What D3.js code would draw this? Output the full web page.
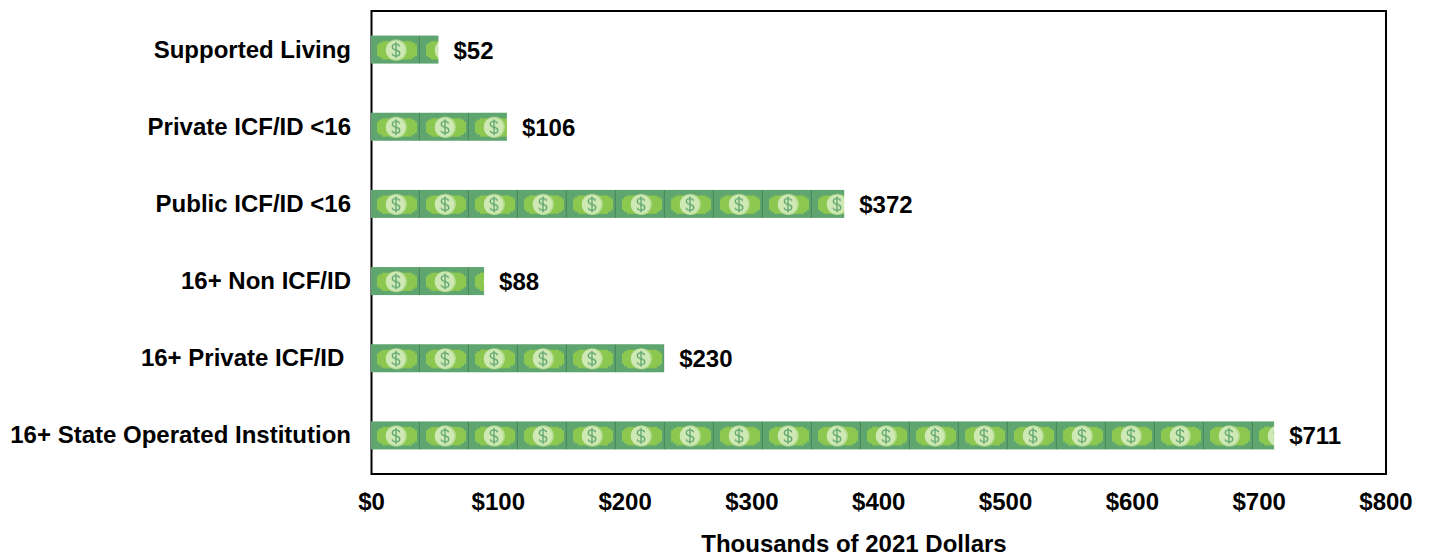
<!DOCTYPE html>
<html><head><meta charset="utf-8">
<style>html,body{margin:0;padding:0;background:#fff}svg{display:block}text{font-family:"Liberation Sans",Arial,sans-serif;font-weight:700;fill:#000}</style>
<script src="https://cdn.jsdelivr.net/npm/d3@7/dist/d3.min.js"></script>
</head><body><script>
const categories=["Supported Living","Private ICF/ID <16","Public ICF/ID <16","16+ Non ICF/ID","16+ Private ICF/ID ","16+ State Operated Institution"];
const values=[52,106,372,88,230,711];
const xTicks=[0,100,200,300,400,500,600,700,800];
const axisTitle="Thousands of 2021 Dollars";
const W=1429,H=557,m={l:371.5,r:1386,t:11,b:474};
const svg=d3.select("body").append("svg").attr("width",W).attr("height",H);
const x=d3.scaleLinear().domain([0,800]).range([m.l,m.r]);
const y=d3.scaleBand().domain(categories).range([m.t,m.b]).paddingInner(0.637).paddingOuter(0.3185);
const defs=svg.append("defs");
const tw=49,th=y.bandwidth();
const p=defs.append("pattern").attr("id","bill").attr("patternUnits","userSpaceOnUse").attr("width",tw).attr("height",th);
p.append("rect").attr("width",tw).attr("height",th).attr("fill","#5fa56f");
p.append("rect").attr("x",tw-1.2).attr("width",1.2).attr("height",th).attr("fill","#4c8a5e");
p.append("path").attr("fill","#8cc84f").attr("d","M6 9H8V7H11V5.5H41V7H44V9H46V20H44V22H41V24H11V22H8V20H6Z");
p.append("circle").attr("cx",25.5).attr("cy",14.5).attr("r",10.5).attr("fill","#b5dd8f");
p.append("circle").attr("cx",24.5).attr("cy",14.5).attr("r",9.8).attr("fill","#cfe9b5");
const sign=p.append("g").attr("fill","none").attr("stroke","#5fa56f").attr("stroke-width",1.3);
sign.append("path").attr("d","M28.6 10.8C28 9 26.5 8.6 25 8.6C22.8 8.6 21.3 9.8 21.3 11.5C21.3 13.5 23 14 25 14.5C27 15 28.8 15.6 28.8 17.6C28.8 19.4 27 20.4 25 20.4C23.2 20.4 21.6 19.8 21 18");
sign.append("path").attr("d","M25 6.5V22.5");
svg.append("rect").attr("x",m.l).attr("y",m.t).attr("width",m.r-m.l).attr("height",m.b-m.t).attr("fill","none").attr("stroke","#000").attr("stroke-width",2);
svg.append("g").selectAll("g").data(categories).join("g").attr("transform",d=>`translate(${m.l-0.5},${y(d)})`)
  .append("rect").attr("width",(d,i)=>x(values[i])-x(0)+1.5).attr("height",th).attr("fill","url(#bill)");
svg.append("g").selectAll("text").data(categories).join("text").attr("x",351).attr("y",d=>y(d)+th/2+8).attr("text-anchor","end").style("font-size","24px").style("white-space","pre").text(d=>d);
svg.append("g").selectAll("text").data(values).join("text").attr("x",d=>x(d)+16).attr("y",(d,i)=>y(categories[i])+th/2+9).style("font-size","24px").text(d=>"$"+d);
svg.append("g").selectAll("text").data(xTicks).join("text").attr("x",d=>x(d)).attr("y",510).attr("text-anchor","middle").style("font-size","24px").text(d=>"$"+d);
svg.append("text").attr("x",854).attr("y",552).attr("text-anchor","middle").style("font-size","24px").text(axisTitle);
</script></body></html>
